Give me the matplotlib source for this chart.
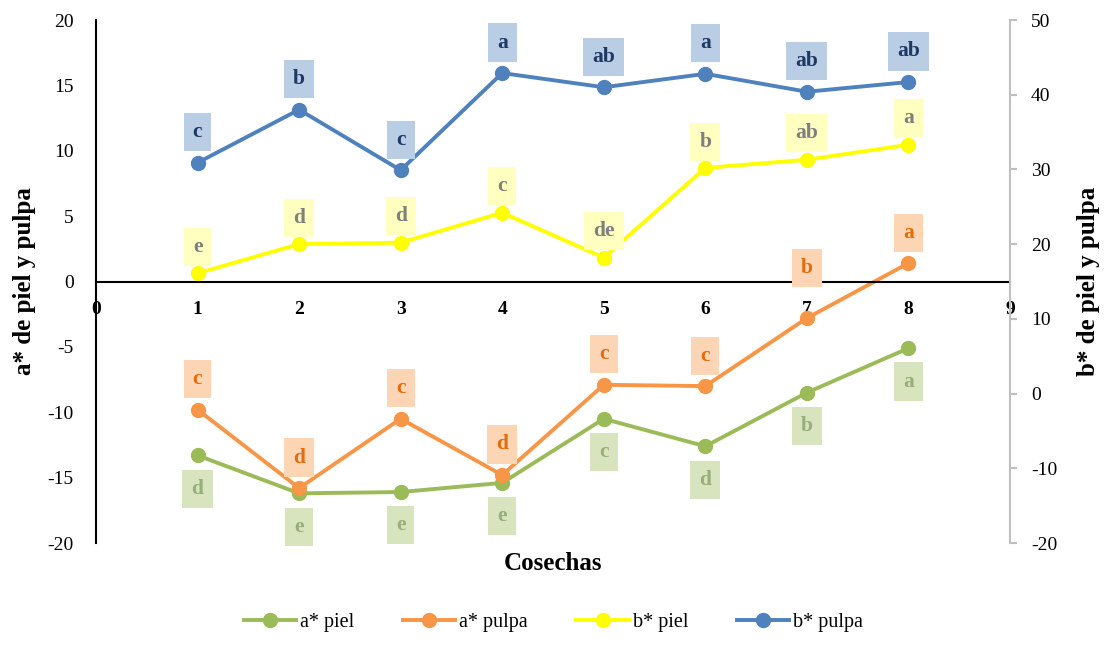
import matplotlib.pyplot as plt

plt.rcParams['font.family'] = ['Liberation Serif', 'DejaVu Serif']
plt.rcParams['axes.unicode_minus'] = False

cosechas = [1, 2, 3, 4, 5, 6, 7, 8]

a_piel = [-13.3, -16.2, -16.1, -15.4, -10.5, -12.6, -8.5, -5.1]
a_pulpa = [-9.8, -15.8, -10.5, -14.8, -7.9, -8.0, -2.8, 1.4]
b_piel = [16.1, 20.0, 20.2, 24.2, 18.2, 30.2, 31.3, 33.3]
b_pulpa = [30.9, 38.0, 29.9, 42.9, 41.0, 42.8, 40.4, 41.7]

let_a_piel = ['d', 'e', 'e', 'e', 'c', 'd', 'b', 'a']
let_a_pulpa = ['c', 'd', 'c', 'd', 'c', 'c', 'b', 'a']
let_b_piel = ['e', 'd', 'd', 'c', 'de', 'b', 'ab', 'a']
let_b_pulpa = ['c', 'b', 'c', 'a', 'ab', 'a', 'ab', 'ab']

verde = '#9BBB59'
naranja = '#F79646'
amarillo = '#FFFF00'
azul = '#4F81BD'

fig = plt.figure(figsize=(11.07, 6.5), dpi=100)
ax = fig.add_axes([0.0867, 0.1646, 0.8257, 0.8046])
ax2 = ax.twinx()

l1, = ax.plot(cosechas, a_piel, color=verde, lw=2.8, marker='o', ms=10, label='a* piel')
l2, = ax.plot(cosechas, a_pulpa, color=naranja, lw=2.8, marker='o', ms=10, label='a* pulpa')
l3, = ax2.plot(cosechas, b_piel, color=amarillo, lw=2.8, marker='o', ms=10, label='b* piel')
l4, = ax2.plot(cosechas, b_pulpa, color=azul, lw=2.8, marker='o', ms=10, label='b* pulpa')

ax.set_xlim(0, 9)
ax.set_ylim(-20, 20)
ax2.set_ylim(-20, 50)
ax.set_xticks(range(0, 10))
ax.set_yticks(range(-20, 21, 5))
ax2.set_yticks(range(-20, 51, 10))

# etiquetas de letras con recuadro de color (dy en puntos, + arriba)
series = [
    ('a_piel', a_piel, let_a_piel, ax.transData, '#D7E4BD', '#98AE7C', -24),
    ('a_pulpa', a_pulpa, let_a_pulpa, ax.transData, '#FCD5B5', '#E46C0A', 22),
    ('b_piel', b_piel, let_b_piel, ax2.transData, '#FFFFC0', '#7F7F7F', 19),
    ('b_pulpa', b_pulpa, let_b_pulpa, ax2.transData, '#B9CDE5', '#1F3864', 22),
]
# ajuste manual de alguna etiqueta (como en el original)
extra = {('a_pulpa', 7): 14}

for nombre, vals, letras, tr, fondo, texto, dy in series:
    for x, y, t in zip(cosechas, vals, letras):
        off = dy + extra.get((nombre, x), 0)
        ax2.annotate(t, xy=(x, y), xycoords=tr, xytext=(0, off), textcoords='offset points',
                     ha='center', va='center', fontsize=15.5, fontweight='bold', color=texto,
                     bbox=dict(boxstyle='square,pad=0.42', fc=fondo, ec='none'), zorder=5,
                     annotation_clip=False)

ax.spines['top'].set_visible(False)
ax2.spines['top'].set_visible(False)
ax.spines['right'].set_visible(False)
ax2.spines['left'].set_visible(False)
ax2.spines['bottom'].set_visible(False)
ax.spines['bottom'].set_position(('data', 0))
ax.spines['bottom'].set_linewidth(1.5)
ax.spines['left'].set_linewidth(1.5)
ax2.spines['right'].set_color('#BFBFBF')
ax2.spines['right'].set_linewidth(1.5)

ax.tick_params(axis='x', length=0, pad=14, labelsize=14)
for lab in ax.get_xticklabels():
    lab.set_fontweight('bold')
ax.tick_params(axis='y', length=0, pad=16, labelsize=14)
ax2.tick_params(axis='y', length=5, width=1.5, color='#BFBFBF', pad=10, labelsize=14)

ax.set_ylabel('a* de piel y pulpa', fontsize=18, fontweight='bold', labelpad=8)
ax2.set_ylabel('b* de piel y pulpa', fontsize=18, fontweight='bold', labelpad=14)
ax.text(0.5, -0.04, 'Cosechas', transform=ax.transAxes, ha='center', va='center',
        fontsize=18, fontweight='bold')

fig.legend(handles=[l1, l2, l3, l4], loc='lower center', bbox_to_anchor=(0.5, 0.0),
           ncol=4, frameon=False, fontsize=14.5, handlelength=2.6, columnspacing=2.4,
           handletextpad=0.2)

fig.savefig('out.png', dpi=100)
